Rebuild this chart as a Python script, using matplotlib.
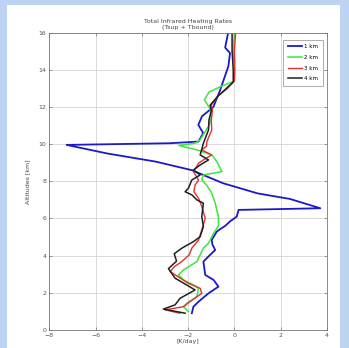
import matplotlib
matplotlib.use('agg')
import matplotlib.pyplot as plt
from matplotlib.patches import Rectangle

# heating rate profiles [K/day] vs altitude [km]
x_1km = [-1.84, -1.77, -1.55, -1.12, -0.69, -0.90, -1.26, -1.34, -1.05, -0.83, -0.95,
         -0.98, -0.76, -0.40, -0.18, 0.10, 0.18, 3.71, 2.40, 1.00, -0.50, -1.84, -3.40,
         -5.50, -7.25, -2.77, -1.55, -1.35, -1.56, -1.40, -0.91, -0.62, -0.26, -0.19, -0.40, -0.27]
y_1km = [0.90, 1.25, 1.52, 1.97, 2.33, 2.69, 2.96, 3.68, 4.04, 4.30, 4.60,
         4.84, 5.30, 5.60, 5.85, 6.10, 6.46, 6.55, 7.05, 7.35, 7.90, 8.60, 9.06,
         9.50, 9.96, 10.05, 10.14, 10.60, 11.04, 11.50, 12.00, 12.90, 14.20, 14.90, 15.20, 16.00]

x_2km = [-1.99, -2.20, -2.06, -1.62, -1.55, -1.77, -2.20, -2.42, -2.20, -1.62, -1.48,
         -1.34, -1.12, -0.90, -0.69, -0.69, -0.83, -0.98, -1.20, -1.41, -1.34,
         -0.54, -0.76, -0.97, -1.62, -2.40, -1.70, -1.50, -1.30, -1.10, -1.00, -1.05, -1.30,
         -1.10, -0.60, 0.00, 0.00, -0.05, 0.00]
y_2km = [0.99, 1.25, 1.43, 1.79, 2.24, 2.42, 2.69, 2.96, 3.23, 3.68, 4.04,
         4.40, 4.67, 5.20, 5.60, 6.10, 6.82, 7.36, 7.80, 8.07, 8.34,
         8.52, 9.06, 9.42, 9.69, 9.93, 10.05, 10.20, 10.60, 11.00, 11.40, 11.90, 12.40,
         12.80, 13.10, 13.40, 14.00, 15.00, 16.00]

x_3km = [-2.35, -2.99, -2.20, -1.91, -1.41, -1.48, -1.99, -2.78, -2.60, -2.30, -1.95,
         -1.84, -1.55, -1.41, -1.26, -1.41, -1.55, -1.75, -1.70, -1.55, -1.77,
         -1.55, -1.34, -0.98, -1.41, -1.20, -1.19, -0.98, -1.00, -0.95, -1.00, -0.70, -0.30,
         0.00, 0.02, 0.00, 0.05]
y_3km = [0.90, 1.08, 1.25, 1.53, 1.97, 2.24, 2.51, 3.14, 3.40, 3.65, 4.04,
         4.40, 4.84, 5.38, 6.01, 6.64, 7.09, 7.44, 7.80, 8.07, 8.52,
         8.97, 9.15, 9.42, 9.69, 9.90, 10.14, 10.76, 11.30, 11.80, 12.10, 12.60, 13.00,
         13.40, 14.00, 15.00, 16.00]

x_4km = [-2.13, -3.07, -2.56, -2.35, -1.70, -2.06, -2.56, -2.85, -2.50, -2.60, -2.27,
         -2.06, -1.77, -1.48, -1.34, -1.41, -1.34, -1.62, -1.84, -2.13, -1.99, -1.84, -1.48,
         -1.77, -1.48, -1.12, -1.48, -1.34, -1.12, -1.10, -1.00, -1.05, -0.70, -0.35, -0.05,
         -0.05, -0.10, -0.10]
y_4km = [0.90, 1.12, 1.35, 1.70, 2.15, 2.42, 2.78, 3.30, 3.70, 4.10, 4.40,
         4.55, 4.75, 5.02, 5.56, 6.10, 6.82, 7.00, 7.27, 7.44, 7.62, 8.07, 8.34,
         8.61, 8.88, 9.15, 9.42, 10.05, 10.76, 11.30, 11.80, 12.10, 12.60, 13.00, 13.35,
         14.00, 15.00, 16.00]

labels = ['1 km', '2 km', '3 km', '4 km']
xticks = [-8, -6, -4, -2, 0, 2, 4]
yticks = [0, 2, 4, 6, 8, 10, 12, 14, 16]

fig = plt.figure(figsize=(3.49, 3.48), dpi=100)
fig.patch.set_facecolor('#bed2f2')
# white panel of the screenshot, kept behind the axes
fig.add_artist(Rectangle((7/349, 0), 333/349, 343/348, transform=fig.transFigure,
                         facecolor='white', edgecolor='none', zorder=-5))

ax = fig.add_axes([0.141, 0.052, 0.796, 0.854])
ax.set_zorder(1)
ax.plot(x_1km, y_1km, color='#1a1ac8', lw=1.3, label=labels[0])
ax.plot(x_2km, y_2km, color='#3ee63e', lw=1.1, label=labels[1])
ax.plot(x_3km, y_3km, color='#e03030', lw=1.0, label=labels[2])
ax.plot(x_4km, y_4km, color='#202020', lw=1.1, label=labels[3])

ax.set_xlim(-8, 4)
ax.set_ylim(0, 16)
ax.set_xticks(xticks)
ax.set_yticks(yticks)
ax.grid(True, color='#d4d4d4', lw=0.6)
ax.tick_params(direction='in', top=True, right=True, length=2, width=0.5,
               labelsize=4.5, labelcolor='#555555', color='#777777', pad=2)
for s in ax.spines.values():
    s.set_linewidth(0.6)
    s.set_color('#777777')

ax.set_title('Total Infrared Heating Rates\n(Tsup + Tbound)', fontsize=4.5, color='#444444', pad=3)
ax.set_xlabel('[K/day]', fontsize=4.5, color='#444444', labelpad=1)
ax.set_ylabel('Altitudes [km]', fontsize=4.5, color='#444444', labelpad=6)

leg = ax.legend(loc='upper right', fontsize=4, handlelength=2.6, borderpad=0.8,
                labelspacing=1.0, handletextpad=0.4, fancybox=False,
                bbox_to_anchor=(0.995, 0.985))
leg.get_frame().set_edgecolor('#888888')
leg.get_frame().set_linewidth(0.6)

fig.savefig('out.png', dpi=100, facecolor=fig.get_facecolor())
